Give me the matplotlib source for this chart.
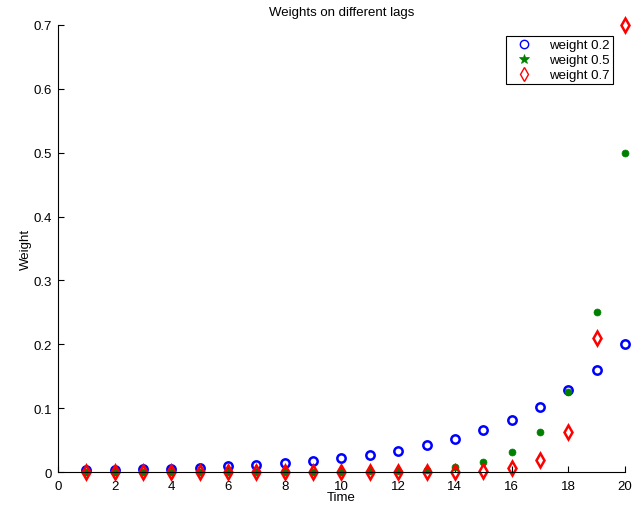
import matplotlib.pyplot as plt
from matplotlib.lines import Line2D

plt.rcParams['font.family'] = ['Liberation Sans', 'DejaVu Sans']

time = list(range(1, 21))
w02 = [0.0029, 0.0036, 0.0045, 0.0056, 0.0070, 0.0088, 0.0110, 0.0137, 0.0172, 0.0215,
       0.0268, 0.0336, 0.0419, 0.0524, 0.0655, 0.0819, 0.1024, 0.1280, 0.1600, 0.2000]
w05 = [0.0000, 0.0000, 0.0000, 0.0000, 0.0000, 0.0000, 0.0000, 0.0001, 0.0002, 0.0005,
       0.0010, 0.0020, 0.0039, 0.0078, 0.0156, 0.0313, 0.0625, 0.1250, 0.2500, 0.5000]
w07 = [0.0000, 0.0000, 0.0000, 0.0000, 0.0000, 0.0000, 0.0000, 0.0000, 0.0000, 0.0000,
       0.0000, 0.0000, 0.0002, 0.0005, 0.0017, 0.0057, 0.0189, 0.0630, 0.2100, 0.7000]
labels = ['weight 0.2', 'weight 0.5', 'weight 0.7']

fig = plt.figure(figsize=(6.43, 5.06), dpi=100)
ax = fig.add_axes([0.090, 0.065, 0.882, 0.884])

ax.plot(time, w02, 'o', ms=6, mfc='none', mec='#0000ff', mew=1.8, clip_on=False)
ax.plot(time, w05, 'o', ms=5, mfc='#008000', mec='#008000', mew=0.5, clip_on=False)
ax.plot(time, w07, 'd', ms=7.5, mfc='none', mec='#ff0000', mew=1.8, clip_on=False)

ax.set_xlim(0, 20)
ax.set_ylim(0, 0.7)
ax.set_xticks(range(0, 21, 2))
ax.set_yticks([0, 0.1, 0.2, 0.3, 0.4, 0.5, 0.6, 0.7])
ax.set_yticklabels(['0', '0.1', '0.2', '0.3', '0.4', '0.5', '0.6', '0.7'])
ax.tick_params(direction='in', length=4, labelsize=9.5)
ax.tick_params(axis='x', pad=6)
ax.tick_params(axis='y', pad=4)
for s in ['top', 'right']:
    ax.spines[s].set_visible(False)
ax.set_xlabel('Time', fontsize=9.5, labelpad=-1)
ax.set_ylabel('Weight', fontsize=9.5, labelpad=1)
ax.set_title('Weights on different lags', fontsize=9.5, pad=7)

handles = [
    Line2D([], [], ls='none', marker='o', ms=6, mfc='none', mec='#0000ff', mew=1),
    Line2D([], [], ls='none', marker='*', ms=7, mfc='#008000', mec='#008000', mew=0.5),
    Line2D([], [], ls='none', marker='d', ms=7, mfc='none', mec='#ff0000', mew=1),
]
leg = ax.legend(handles, labels, loc='upper right', bbox_to_anchor=(0.99, 0.99),
                fontsize=9.5, fancybox=False, framealpha=1, edgecolor='black',
                handlelength=2.2, borderpad=0.25, labelspacing=0.2, handletextpad=0.8)
leg.get_frame().set_linewidth(0.8)
leg.set_zorder(5)

fig.savefig('out.png')
